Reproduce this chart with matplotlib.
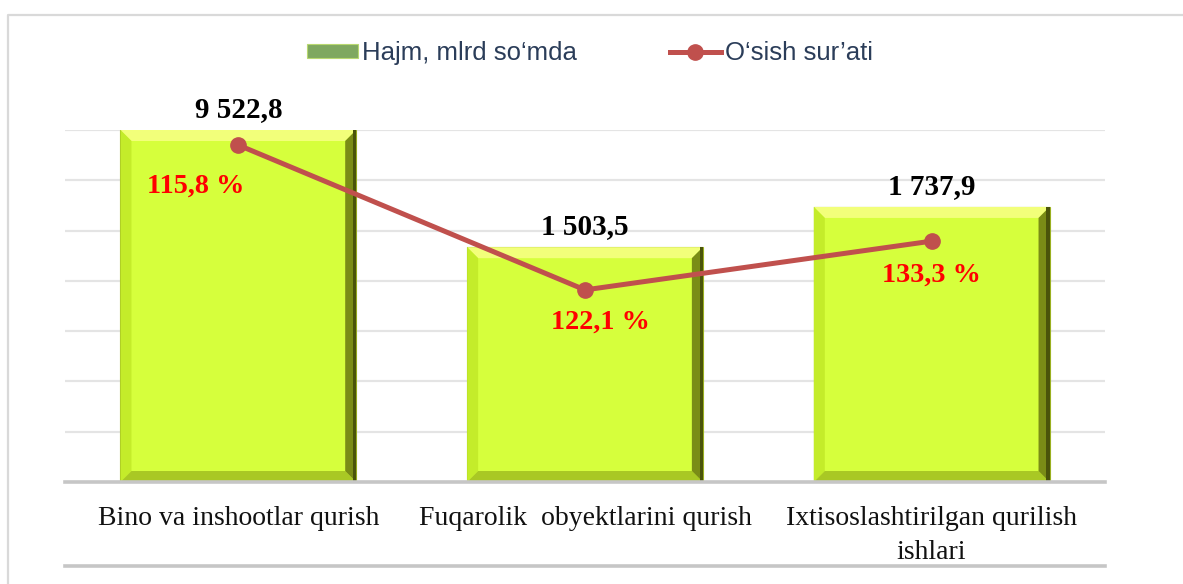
import matplotlib
matplotlib.use("Agg")
import matplotlib.pyplot as plt
from matplotlib.patches import Polygon, Rectangle
from matplotlib.lines import Line2D
import numpy as np

# ---- data ----
categories = ["Bino va inshootlar qurish", "Fuqarolik  obyektlarini qurish",
              "Ixtisoslashtirilgan qurilish\nishlari"]
volume_labels = ["9 522,8", "1 503,5", "1 737,9"]
# bar heights as drawn on the (unlabelled) value axis, in gridline units
volume_axis = [7.0, 4.67, 5.47]
growth_labels = ["115,8 %", "122,1 %", "133,3 %"]
# growth-rate line as drawn on the (unlabelled) secondary axis
growth_axis = [6.70, 3.82, 4.79]

W, H = 1183, 584
fig = plt.figure(figsize=(W / 100, H / 100), dpi=100)
fig.patch.set_facecolor("white")

ax_left, ax_right = 65 / W, 1105 / W
ax_bottom, ax_top = (H - 482) / H, (H - 130) / H
ax = fig.add_axes([ax_left, ax_bottom, ax_right - ax_left, ax_top - ax_bottom])
ax.set_xlim(-0.5, 2.5)
ax.set_ylim(0, 7)
ax.set_yticks(range(0, 8))
ax.yaxis.grid(True, color="#e4e4e4", linewidth=1.6)
ax.set_axisbelow(True)
for s in ax.spines.values():
    s.set_visible(False)
ax.tick_params(axis="y", left=False, labelleft=False)
ax.tick_params(axis="x", bottom=False, pad=14)
x = np.arange(len(categories))
ax.set_xticks(x)
ax.set_xticklabels(categories, fontfamily="Liberation Serif", fontsize=20,
                   color="#111111", linespacing=1.45, va="top")

bar_color = "#D6FF3C"
bars = ax.bar(x, volume_axis, width=0.68, color=bar_color, edgecolor="#9ab020",
              linewidth=0.8, zorder=2)

# bevel effect, sized in pixels then converted to data units
fig.canvas.draw()
inv = ax.transData.inverted()
p0 = inv.transform((0, 0))
p1 = inv.transform((11, 11))
bx, by = p1 - p0
for b in bars:
    x0, y0 = b.get_x(), b.get_y()
    x1, y1 = x0 + b.get_width(), y0 + b.get_height()
    top = [(x0, y1), (x1, y1), (x1 - bx, y1 - by), (x0 + bx, y1 - by)]
    right = [(x1, y1), (x1, y0), (x1 - bx, y0 + by), (x1 - bx, y1 - by)]
    bottom = [(x0, y0), (x1, y0), (x1 - bx, y0 + by), (x0 + bx, y0 + by)]
    left = [(x0, y0), (x0, y1), (x0 + bx, y1 - by), (x0 + bx, y0 + by)]
    ax.add_patch(Polygon(top, closed=True, color="#F2FF7A", lw=0, zorder=3))
    ax.add_patch(Polygon(left, closed=True, color="#C4EC2A", lw=0, zorder=3))
    ax.add_patch(Polygon(bottom, closed=True, color="#A9C824", lw=0, zorder=3))
    ax.add_patch(Polygon(right, closed=True, color="#7A8C16", lw=0, zorder=3))
    ax.add_patch(Rectangle((x1 - bx * 0.3, y0), bx * 0.3, y1 - y0,
                           color="#4a540a", lw=0, zorder=3))

# value labels above bars
for xi, h, lab in zip(x, volume_axis, volume_labels):
    ax.annotate(lab, (xi, h), xytext=(0, 7), textcoords="offset pixels",
                ha="center", va="bottom", fontfamily="Liberation Serif",
                fontweight="bold", fontsize=21, color="black", zorder=6)

# growth line
line_color = "#C0504D"
ax.plot(x, growth_axis, color=line_color, linewidth=3.6, marker="o",
        markersize=11, zorder=5, solid_capstyle="round")

offsets = [(-43, -41), (15, -32), (0, -34)]
for xi, yv, lab, off in zip(x, growth_axis, growth_labels, offsets):
    ax.annotate(lab, (xi, yv), xytext=off, textcoords="offset pixels",
                ha="center", va="center", fontfamily="Liberation Serif",
                fontweight="bold", fontsize=20.3, color="#FF0000", zorder=6)

# baseline and bottom rule
for ypix in (482, 566):
    fig.add_artist(Line2D([ax_left, ax_right], [(H - ypix) / H] * 2,
                          transform=fig.transFigure, color="#c6c6c6",
                          linewidth=2.6, zorder=4))

# frame border
fig.add_artist(Line2D([8 / W, 8 / W, 1.0], [0, (H - 15) / H, (H - 15) / H],
                      transform=fig.transFigure, color="#d9d9d9", linewidth=1.6))

# legend
leg_handles = [
    Rectangle((0, 0), 1, 1, facecolor="#7FA860", edgecolor="#B8D870", linewidth=0.8),
    Line2D([0], [0], color=line_color, linewidth=3.6, marker="o", markersize=11),
]
leg = fig.legend(leg_handles, ["Hajm, mlrd so‘mda", "O‘sish sur’ati"],
                 loc="center", bbox_to_anchor=(590 / W, (H - 53) / H), ncol=2,
                 frameon=False, handlelength=2.0, handleheight=0.5,
                 handletextpad=0.15, columnspacing=3.6,
                 prop={"family": "Liberation Sans", "size": 18.5})
for t in leg.get_texts():
    t.set_color("#2B3D59")

fig.savefig("out.png", dpi=100, facecolor="white")
